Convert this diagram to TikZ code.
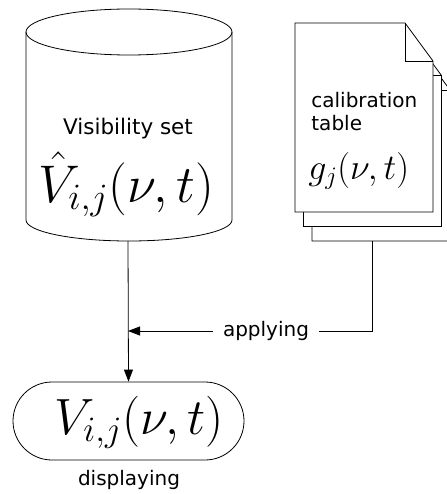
\documentclass[tikz,border=0pt]{standalone}
\usepackage{fix-cm}
\usepackage{fontspec}
\setmainfont{DejaVu Sans}
\usetikzlibrary{arrows.meta}
\begin{document}
\begin{tikzpicture}[x=1pt,y=-1pt,line width=0.8pt,
  page/.style={fill=white,draw=black},
  conn/.style={draw,-{Triangle[length=12pt,width=9pt]}},
  txt/.style={font=\fontsize{20}{22}\selectfont,inner sep=0pt},
  bigmath/.style={inner sep=0pt,anchor=base}]
\useasboundingbox (0,0) rectangle (446,494);
% cylinder
\draw[fill=white] (26,32) -- (26,220) arc[start angle=180,end angle=360,x radius=103pt,y radius=21pt] -- (232,32);
\draw (129,32) ellipse [x radius=103pt,y radius=23pt];
\node[txt,font=\fontsize{21.5}{23}\selectfont] (vis) at (128,129) {Visibility set};
\node[bigmath,font=\fontsize{53}{55}\selectfont] (vhat) at (126,202) {$\hat V_{i,j}(\nu,t)$};
\coordinate (cylb) at (128,241);
% document pages
\foreach \dx/\dy in {17/29,8.5/14.5,0/0} {
  \draw[page] ({295+\dx},{23+\dy}) -- ({405+\dx},{23+\dy}) -- ({433+\dx},{61+\dy}) -- ({433+\dx},{212+\dy}) -- ({295+\dx},{212+\dy}) -- cycle;
  \draw ({405+\dx},{23+\dy}) -- ({405+\dx},{61+\dy}) -- ({433+\dx},{61+\dy});
}
\node[txt,anchor=west] (cal) at (311,100) {calibration};
\node[txt,anchor=west] (tab) at (311,123) {table};
\node[bigmath,anchor=base west,font=\fontsize{36}{38}\selectfont] (gj) at (308,179) {$g_j(\nu,t)$};
\coordinate (docb) at (372,241);
% result
\node[draw,minimum width=231pt,minimum height=78pt,rounded corners=39pt] (disp) at (128.5,421) {};
\node[bigmath,font=\fontsize{51}{53}\selectfont] (vij) at (139,434) {$V_{i,j}(\nu,t)$};
\node[txt] (displ) at (129,480) {displaying};
% connectors
\node[txt,inner xsep=10pt] (appl) at (266,331) {applying};
\coordinate (join) at (128,331);
\draw[conn] (cylb) -- (disp.north);
\draw (docb) |- (appl.east);
\draw[conn] (appl.west) -- (join);
\end{tikzpicture}
\end{document}
